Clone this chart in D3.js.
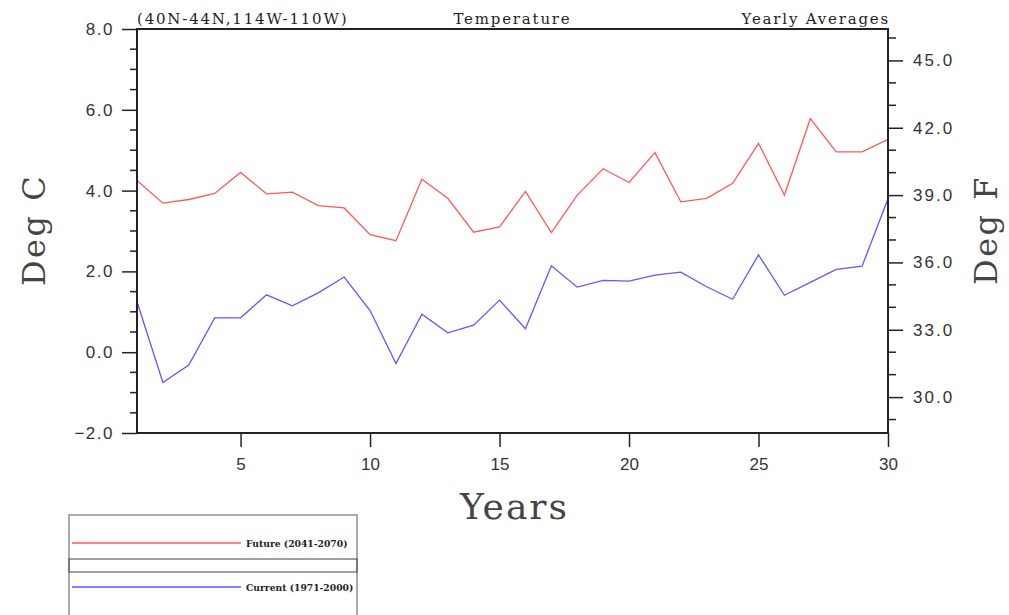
<!DOCTYPE html>
<html>
<head>
<meta charset="utf-8">
<script src="https://cdn.jsdelivr.net/npm/d3@7"></script>
<style>
  body { margin: 0; background: #fff; }
  .tick-label { font-family: "Liberation Sans", Arial, sans-serif; fill: #333; }
  .serif { font-family: "DejaVu Serif", "Liberation Serif", serif; fill: #222; }
</style>
</head>
<body>
<div id="chart-container"></div>
<script>
// yearly averages, Deg C
const years = d3.range(1, 31);
const future = [4.25, 3.69, 3.78, 3.93, 4.45, 3.92, 3.96, 3.63, 3.57, 2.91,
                2.76, 4.28, 3.81, 2.97, 3.10, 3.98, 2.96, 3.89, 4.54, 4.20,
                4.94, 3.72, 3.81, 4.18, 5.17, 3.89, 5.78, 4.96, 4.96, 5.27];
const current = [1.25, -0.75, -0.32, 0.85, 0.85, 1.42, 1.15, 1.47, 1.86, 1.03,
                 -0.28, 0.94, 0.48, 0.67, 1.29, 0.58, 2.14, 1.61, 1.78, 1.76,
                 1.91, 1.98, 1.62, 1.31, 2.41, 1.41, 1.73, 2.05, 2.13, 3.80];
const xTicks = [5, 10, 15, 20, 25, 30];
const cTicks = [-2, 0, 2, 4, 6, 8];
const fTicks = [30, 33, 36, 39, 42, 45];
const seriesNames = ["Future (2041-2070)", "Current (1971-2000)"];
const seriesColors = ["#ff5a5a", "#5a5aff"];

const width = 1009, height = 615;
const plot = { left: 137, right: 888, top: 29, bottom: 433 };

const svg = d3.select("#chart-container").append("svg")
    .attr("width", width)
    .attr("height", height);

const x = d3.scaleLinear().domain([1, 30]).range([plot.left, plot.right]);
const yC = d3.scaleLinear().domain([-2, 8]).range([plot.bottom, plot.top]);
const yF = d3.scaleLinear().domain([-2 * 1.8 + 32, 8 * 1.8 + 32]).range([plot.bottom, plot.top]);

// left axis (Celsius)
const leftAxis = d3.axisLeft(yC).tickValues(cTicks).tickSize(15).tickPadding(8)
    .tickFormat(d3.format(".1f"));
const gl = svg.append("g").attr("transform", `translate(${plot.left},0)`).call(leftAxis);
gl.append("g").selectAll("line")
    .data(d3.range(-2, 8.01, 0.5).filter(v => !cTicks.includes(v)))
    .join("line")
    .attr("x1", -7).attr("x2", 0)
    .attr("y1", d => yC(d)).attr("y2", d => yC(d));

// right axis (Fahrenheit)
const rightAxis = d3.axisRight(yF).tickValues(fTicks).tickSize(15).tickPadding(10)
    .tickFormat(d3.format(".1f"));
const gr = svg.append("g").attr("transform", `translate(${plot.right},0)`).call(rightAxis);
gr.append("g").selectAll("line")
    .data(d3.range(29, 47).filter(v => !fTicks.includes(v)))
    .join("line")
    .attr("x1", 0).attr("x2", 8)
    .attr("y1", d => yF(d)).attr("y2", d => yF(d));

// bottom axis
const bottomAxis = d3.axisBottom(x).tickValues(xTicks).tickSize(14).tickPadding(11);
const gb = svg.append("g").attr("transform", `translate(0,${plot.bottom})`).call(bottomAxis);

[gl, gr, gb].forEach(g => {
  g.select(".domain").remove();
  g.selectAll("line").attr("stroke", "#222").attr("stroke-width", 1.5);
  g.selectAll("text").attr("class", "tick-label").attr("font-family", null);
});
gl.selectAll(".tick text").style("font-size", "17px").style("letter-spacing", "1.5px");
gr.selectAll(".tick text").style("font-size", "17px").style("letter-spacing", "2px");
gb.selectAll(".tick text").style("font-size", "17px");

// data lines
const line = d3.line().x((d, i) => x(years[i])).y(d => yC(d));
[future, current].forEach((s, k) => {
  svg.append("path")
      .datum(s)
      .attr("fill", "none")
      .attr("stroke", seriesColors[k])
      .attr("stroke-width", 1.3)
      .attr("d", line);
});

// frame
svg.append("rect")
    .attr("x", plot.left).attr("y", plot.top)
    .attr("width", plot.right - plot.left).attr("height", plot.bottom - plot.top)
    .attr("fill", "none").attr("stroke", "#222").attr("stroke-width", 2);

// titles
const titleStyle = t => t.attr("class", "serif").attr("y", 24)
    .style("font-size", "15px").style("letter-spacing", "1.8px");
svg.append("text").call(titleStyle).attr("x", plot.left)
    .text("(40N-44N,114W-110W)");
svg.append("text").call(titleStyle).attr("x", (plot.left + plot.right) / 2)
    .attr("text-anchor", "middle").text("Temperature");
svg.append("text").call(titleStyle).attr("x", plot.right + 2)
    .attr("text-anchor", "end").text("Yearly Averages");

svg.append("text").attr("class", "serif")
    .attr("transform", `translate(45,230) rotate(-90)`)
    .attr("text-anchor", "middle").style("font-size", "32px")
    .style("letter-spacing", "2.5px").style("fill", "#444")
    .text("Deg C");
svg.append("text").attr("class", "serif")
    .attr("transform", `translate(997,230) rotate(-90)`)
    .attr("text-anchor", "middle").style("font-size", "32px")
    .style("letter-spacing", "2.5px").style("fill", "#444")
    .text("Deg F");
svg.append("text").attr("class", "serif")
    .attr("x", (plot.left + plot.right) / 2 + 2).attr("y", 519)
    .attr("text-anchor", "middle").style("font-size", "36px")
    .style("letter-spacing", "2px").style("fill", "#444")
    .text("Years");

// legend
const legend = svg.append("g");
legend.append("rect")
    .attr("x", 69).attr("y", 515).attr("width", 288).attr("height", 110)
    .attr("fill", "none").attr("stroke", "#aaa").attr("stroke-width", 2);
legend.append("rect")
    .attr("x", 69).attr("y", 559).attr("width", 288).attr("height", 13)
    .attr("fill", "none").attr("stroke", "#444").attr("stroke-width", 1);
const legendY = [543, 587];
seriesNames.forEach((name, k) => {
  legend.append("line")
      .attr("x1", 72).attr("x2", 241)
      .attr("y1", legendY[k]).attr("y2", legendY[k])
      .attr("stroke", seriesColors[k]).attr("stroke-width", 1.3);
  legend.append("text").attr("class", "serif")
      .attr("x", 246).attr("y", legendY[k] + 3.5)
      .style("font-size", "9.2px").style("font-weight", "bold")
      .text(name);
});
</script>
</body>
</html>
